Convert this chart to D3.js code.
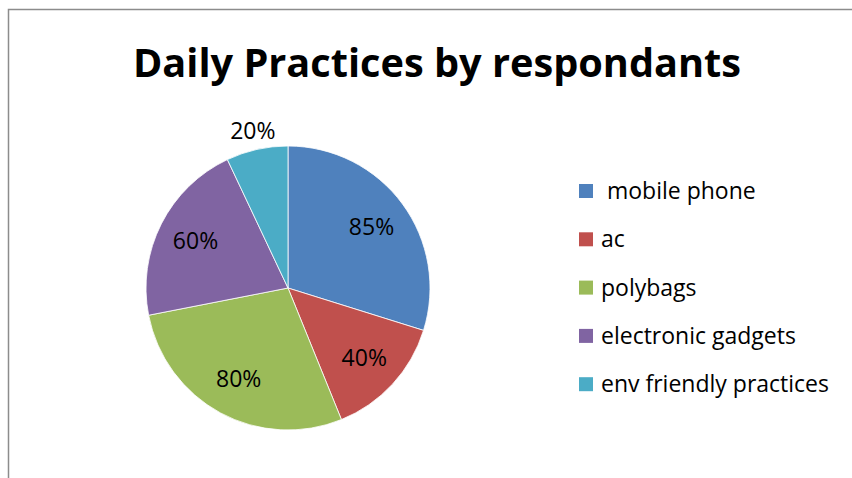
<!DOCTYPE html>
<html lang="en">
<head>
	<meta charset="utf-8">
	<title>Daily Practices by respondants</title>
	<style>
		body { margin: 0; background: #fff; }
		svg { display: block; font-family: "Open Sans", sans-serif; }
		.title { font-weight: bold; font-size: 39.7px; }
		.label, .legend text { font-size: 23px; fill: #000; }
	</style>
</head>
<body>
	<svg></svg>
	<script src="https://d3js.org/d3.v7.min.js"></script>
	<script>
		(function() {
			// data
			var categories = [" mobile phone", "ac", "polybags", "electronic gadgets", "env friendly practices"];
			var values = [85, 40, 80, 60, 20];
			var colors = ["#4F81BD", "#C0504D", "#9BBB59", "#8064A2", "#4BACC6"];

			var width = 852, height = 478;
			var svg = d3.select("svg").attr("width", width).attr("height", height);

			// chart frame (left and top edges visible)
			svg.append("path")
				.attr("d", "M8.5,478V9.5H852")
				.attr("fill", "none")
				.attr("stroke", "#8c8c8c")
				.attr("stroke-width", 1.5);

			svg.append("text")
				.attr("class", "title")
				.attr("x", 437)
				.attr("y", 77)
				.attr("text-anchor", "middle")
				.text("Daily Practices by respondants");

			var cx = 288, cy = 288, r = 142;
			var pie = d3.pie().sort(null).value(function(d) { return d; });
			var arcs = pie(values);
			var arc = d3.arc().innerRadius(0).outerRadius(r);
			var inner = d3.arc().innerRadius(r * 0.73).outerRadius(r * 0.73);
			var outer = d3.arc().innerRadius(r + 19).outerRadius(r + 19);

			var g = svg.append("g").attr("transform", "translate(" + cx + "," + cy + ")");

			g.selectAll("path")
				.data(arcs)
				.enter().append("path")
				.attr("d", arc)
				.attr("fill", function(d, i) { return colors[i]; })
				.attr("stroke", "#fff")
				.attr("stroke-width", 0.8);

			g.selectAll("text")
				.data(arcs)
				.enter().append("text")
				.attr("class", "label")
				.attr("text-anchor", "middle")
				.attr("dy", "0.35em")
				.attr("transform", function(d) {
					// small slice label sits outside the pie
					var a = (d.endAngle - d.startAngle) < 0.5 ? outer : inner;
					return "translate(" + a.centroid(d) + ")";
				})
				.text(function(d) { return d.value + "%"; });

			var legend = svg.append("g").attr("class", "legend")
				.selectAll("g")
				.data(categories)
				.enter().append("g")
				.attr("transform", function(d, i) { return "translate(579," + (191 + i * 48.3) + ")"; });

			legend.append("rect")
				.attr("x", 0)
				.attr("y", -7)
				.attr("width", 14)
				.attr("height", 14)
				.attr("fill", function(d, i) { return colors[i]; });

			legend.append("text")
				.attr("x", 22)
				.attr("dy", "0.35em")
				.attr("xml:space", "preserve")
				.style("white-space", "pre")
				.text(function(d) { return d; });
		})();
	</script>
</body>
</html>
